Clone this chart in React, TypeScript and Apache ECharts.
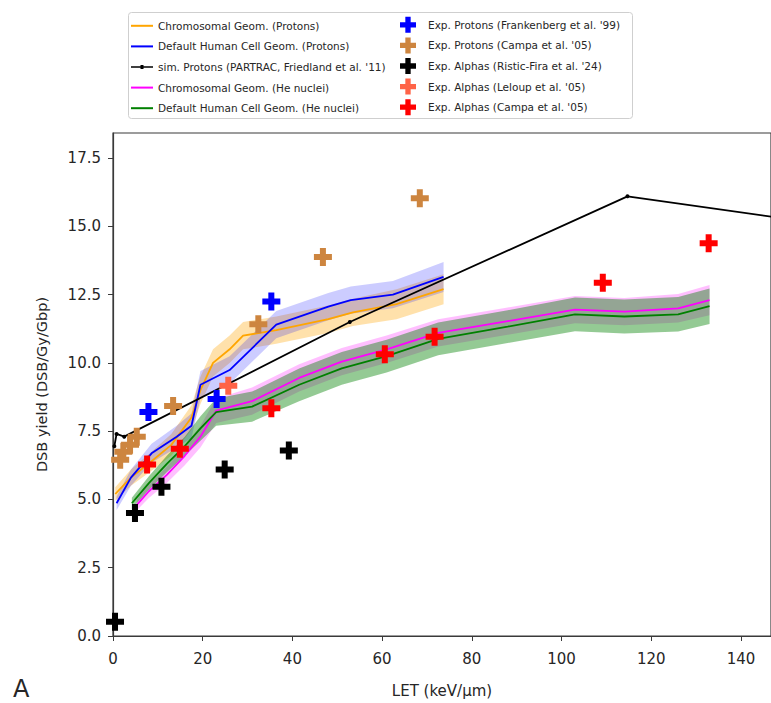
import React, { useEffect, useRef } from "react";
import * as echarts from "echarts";

// ---------- data ----------
const xTicks = [0, 20, 40, 60, 80, 100, 120, 140];
const yTicks = [0, 2.5, 5, 7.5, 10, 12.5, 15, 17.5];

// Proton simulations
const orangeX = [0.5, 4, 8.6, 13, 17.5, 19.5, 22.3, 26, 29, 36.4, 48, 53.5, 63.2, 73.7];
const orangeY = [5.2, 5.8, 6.4, 7.0, 8.0, 9.0, 10.0, 10.5, 11.0, 11.2, 11.6, 11.85, 12.15, 12.7];
const orangeErr = [0.25, 0.3, 0.35, 0.4, 0.45, 0.5, 0.5, 0.5, 0.5, 0.5, 0.5, 0.5, 0.55, 0.55];

const blueX = [0.8, 4, 8.6, 14.2, 17.5, 19.5, 26, 36.4, 48, 53, 62.4, 73.7];
const blueY = [4.86, 5.8, 6.69, 7.3, 7.7, 9.2, 9.74, 11.4, 12.06, 12.3, 12.5, 13.15];
const blueErr = [0.25, 0.3, 0.35, 0.4, 0.45, 0.5, 0.5, 0.5, 0.5, 0.5, 0.5, 0.55];

// PARTRAC protons
const partracX = [0.3, 0.8, 2.5, 52.8, 114.7, 175];
const partracY = [6.95, 7.4, 7.3, 11.5, 16.1, 14.7];

// He nuclei simulations
const magentaX = [5.3, 8, 12, 16, 19.5, 23, 31, 41.5, 51, 61, 72.5, 88, 103, 114, 126, 133];
const magentaY = [4.8, 5.3, 5.9, 6.6, 7.3, 8.25, 8.6, 9.45, 10.05, 10.5, 11.1, 11.53, 11.95, 11.88, 12.0, 12.3];
const magentaErr = [0.2, 0.25, 0.3, 0.35, 0.4, 0.45, 0.5, 0.5, 0.5, 0.5, 0.5, 0.5, 0.5, 0.5, 0.52, 0.55];

const greenX = [4.2, 8, 12, 16, 19.5, 23, 31, 41.5, 51, 61, 72.5, 88, 103, 114, 126, 133];
const greenY = [4.86, 5.6, 6.3, 6.95, 7.6, 8.2, 8.4, 9.2, 9.8, 10.25, 10.88, 11.33, 11.78, 11.7, 11.78, 12.08];
const greenErr = [0.2, 0.25, 0.3, 0.35, 0.45, 0.5, 0.55, 0.6, 0.6, 0.6, 0.6, 0.6, 0.62, 0.62, 0.63, 0.65];

// Experimental data
const frankenbergX = [7.9, 23.1, 35.3];
const frankenbergY = [8.2, 8.68, 12.25];
const campaProtX = [1.6, 2.3, 3.8, 5.3, 13.4, 32.4, 46.8, 68.4];
const campaProtY = [6.45, 6.75, 7.0, 7.3, 8.42, 11.42, 13.88, 16.03];
const risticX = [0.45, 4.9, 10.8, 24.9, 39.2];
const risticY = [0.52, 4.5, 5.47, 6.1, 6.79];
const leloupX = [25.7];
const leloupY = [9.16];
const campaAlphaX = [7.6, 14.9, 35.3, 60.6, 71.7, 109.2, 132.8];
const campaAlphaY = [6.28, 6.86, 8.34, 10.32, 10.96, 12.94, 14.38];

const lineNames = [
  "Chromosomal Geom. (Protons)",
  "Default Human Cell Geom. (Protons)",
  "sim. Protons (PARTRAC, Friedland et al. '11)",
  "Chromosomal Geom. (He nuclei)",
  "Default Human Cell Geom. (He nuclei)",
];
const expNames = [
  "Exp. Protons (Frankenberg et al. '99)",
  "Exp. Protons (Campa et al. '05)",
  "Exp. Alphas (Ristic-Fira et al. '24)",
  "Exp. Alphas (Leloup et al. '05)",
  "Exp. Alphas (Campa et al. '05)",
];

const PLUS = "path://M6,0 L12,0 L12,6 L18,6 L18,12 L12,12 L12,18 L6,18 L6,12 L0,12 L0,6 L6,6 Z";
const LINE_ICON = "path://M0,0 L22,0 L22,2 L0,2 Z";
const LINE_DOT_ICON = "path://M0,4.2 L22,4.2 L22,5.8 L0,5.8 Z M9.5,3 L12.5,3 L12.5,7 L9.5,7 Z";
const FONT = "DejaVu Sans";

function zip(xs: number[], ys: number[]) {
  return xs.map((x, i) => [x, ys[i]]);
}

function band(xs: number[], ys: number[], err: number[], color: string) {
  return {
    type: "custom",
    silent: true,
    z: 1,
    encode: { x: 0, y: [1, 2] },
    data: xs.map((x, i) => [x, ys[i] - err[i], ys[i] + err[i]]),
    renderItem: (params: any, api: any) => {
      if (params.dataIndex !== 0) return null;
      const upper = xs.map((x, i) => api.coord([x, ys[i] + err[i]]));
      const lower = xs.map((x, i) => api.coord([x, ys[i] - err[i]])).reverse();
      return {
        type: "polygon",
        shape: { points: upper.concat(lower) },
        style: { fill: color, stroke: "none" },
        silent: true,
      };
    },
  };
}

function lineSeries(name: string, xs: number[], ys: number[], color: string, extra: any = {}) {
  return {
    type: "line",
    name,
    data: zip(xs, ys),
    symbol: "none",
    itemStyle: { color },
    lineStyle: { color, width: 1.8 },
    z: 3,
    ...extra,
  };
}

function scatterSeries(name: string, xs: number[], ys: number[], color: string) {
  return {
    type: "scatter",
    name,
    data: zip(xs, ys),
    symbol: PLUS,
    symbolSize: 18,
    itemStyle: { color, opacity: 1 },
    z: 5,
  };
}

export default function App() {
  const ref = useRef<HTMLDivElement>(null);
  useEffect(() => {
    if (!ref.current) return;
    const chart = echarts.init(ref.current, null, { renderer: "svg" });
    const legendText = { fontSize: 10.5, color: "#262626", fontFamily: FONT, lineHeight: 20.6 };
    const option: any = {
      animation: false,
      backgroundColor: "#ffffff",
      textStyle: { fontFamily: FONT },
      grid: {
        left: 113,
        top: 133,
        right: -1,
        bottom: 67,
        show: true,
        borderColor: "#3a3a3a",
        borderWidth: 1.2,
        containLabel: false,
      },
      xAxis: {
        type: "value",
        min: 0,
        max: 146.7,
        name: "LET (keV/μm)",
        nameLocation: "middle",
        nameGap: 47,
        nameTextStyle: { fontSize: 15, color: "#262626", fontFamily: FONT },
        axisLine: { show: true, lineStyle: { color: "#3a3a3a", width: 1.2 } },
        axisTick: { show: true, length: 5, inside: false, customValues: xTicks, lineStyle: { color: "#3a3a3a" } },
        axisLabel: { customValues: xTicks, fontSize: 15, color: "#262626", margin: 15, fontFamily: FONT },
        splitLine: { show: false },
      },
      yAxis: {
        type: "value",
        min: 0,
        max: 18.42,
        name: "DSB yield (DSB/Gy/Gbp)",
        nameLocation: "middle",
        nameGap: 64,
        nameRotate: 90,
        nameTextStyle: { fontSize: 14.5, color: "#262626", fontFamily: FONT },
        axisLine: { show: true, lineStyle: { color: "#3a3a3a", width: 1.2 } },
        axisTick: { show: true, length: 5, inside: false, customValues: yTicks, lineStyle: { color: "#3a3a3a" } },
        axisLabel: {
          customValues: yTicks,
          fontSize: 15,
          color: "#262626",
          margin: 12,
          fontFamily: FONT,
          formatter: (v: number) => v.toFixed(1),
        },
        splitLine: { show: false },
      },
      legend: [
        {
          data: lineNames.map((n, i) => ({ name: n, icon: i === 2 ? LINE_DOT_ICON : LINE_ICON })),
          orient: "vertical",
          left: 131,
          top: 15.5,
          padding: 0,
          itemWidth: 22,
          itemHeight: 14,
          itemGap: 0,
          textStyle: legendText,
          selectedMode: false,
        },
        {
          data: expNames,
          orient: "vertical",
          left: 400,
          top: 14.5,
          padding: 0,
          itemWidth: 30,
          itemHeight: 16,
          itemGap: 0,
          textStyle: legendText,
          selectedMode: false,
        },
      ],
      graphic: [
        {
          type: "rect",
          left: 128,
          top: 12,
          shape: { width: 504, height: 106, r: 3 },
          style: { fill: "rgba(255,255,255,0.8)", stroke: "#cfcfcf", lineWidth: 1 },
          z: -1,
          silent: true,
        },
        {
          type: "text",
          left: 13,
          top: 677,
          style: { text: "A", fontSize: 24, fill: "#262626", fontFamily: FONT },
        },
      ],
      series: [
        band(orangeX, orangeY, orangeErr, "rgba(255,165,0,0.33)"),
        band(blueX, blueY, blueErr, "rgba(0,0,255,0.2)"),
        band(magentaX, magentaY, magentaErr, "rgba(255,0,255,0.25)"),
        band(greenX, greenY, greenErr, "rgba(0,128,0,0.42)"),
        lineSeries(lineNames[0], orangeX, orangeY, "#FFA500"),
        lineSeries(lineNames[1], blueX, blueY, "#0000FF"),
        lineSeries(lineNames[2], partracX, partracY, "#000000", {
          symbol: "circle",
          symbolSize: 4,
          showSymbol: true,
          lineStyle: { color: "#000000", width: 1.8 },
          z: 4,
        }),
        lineSeries(lineNames[3], magentaX, magentaY, "#FF00FF"),
        lineSeries(lineNames[4], greenX, greenY, "#008000"),
        scatterSeries(expNames[0], frankenbergX, frankenbergY, "#0000FF"),
        scatterSeries(expNames[1], campaProtX, campaProtY, "#CD853F"),
        scatterSeries(expNames[2], risticX, risticY, "#000000"),
        scatterSeries(expNames[3], leloupX, leloupY, "#FF6347"),
        scatterSeries(expNames[4], campaAlphaX, campaAlphaY, "#FF0000"),
      ],
    };
    chart.setOption(option);
    return () => chart.dispose();
  }, []);
  return (
    <div
      ref={ref}
      style={{ position: "fixed", left: 0, top: 0, width: 771, height: 703, background: "#fff" }}
    />
  );
}
